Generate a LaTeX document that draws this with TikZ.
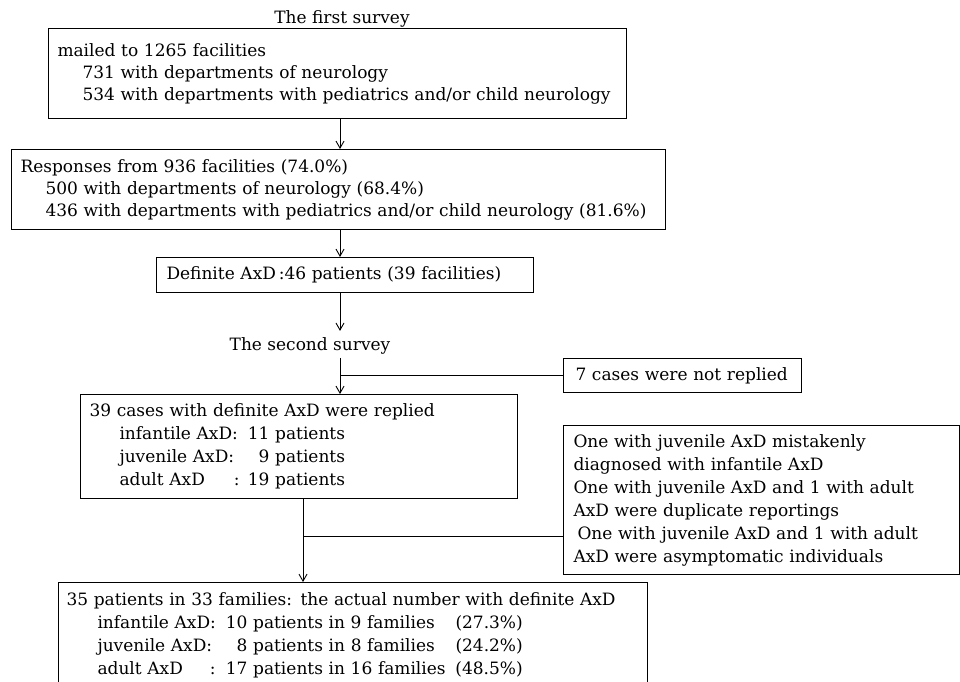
\documentclass[tikz,border=0pt]{standalone}
\usepackage{fontspec}
\setmainfont{DejaVu Serif}
\usetikzlibrary{arrows.meta}
\begin{document}
\begin{tikzpicture}[x=1pt,y=-1pt,
  box/.style={draw, line width=1pt, anchor=north west, inner ysep=0pt, align=left, font=\fontsize{17}{23}\selectfont},
  arr/.style={line width=0.9pt, -{Straight Barb[length=7pt,width=8pt,line width=0.9pt]}},
  conn/.style={line width=0.9pt},
  lbl/.style={font=\fontsize{17}{23}\selectfont, inner sep=0pt}]
\useasboundingbox (0,0) rectangle (960,681);
\clip (0,0) rectangle (960,681);
\coordinate (ax) at (340,0);
\coordinate (ax2) at (303,0);

\node[lbl, anchor=base] (t1) at (342,23) {The first survey};

\node[box, minimum width=578pt, minimum height=90pt, inner xsep=9pt, text width=560pt,
      font=\fontsize{17}{22}\selectfont] (b1) at (48,28)
 {mailed to 1265 facilities\\
  \hspace*{25pt}731 with departments of neurology\\
  \hspace*{25pt}534 with departments with pediatrics and/or child neurology};

\node[box, minimum width=654pt, minimum height=80pt, inner xsep=9pt, text width=636pt,
      font=\fontsize{17}{22}\selectfont] (b2) at (11,149)
 {Responses from 936 facilities (74.0\%)\\
  \hspace*{25pt}500 with departments of neurology (68.4\%)\\
  \hspace*{25pt}436 with departments with pediatrics and/or child neurology (81.6\%)};

\node[box, minimum width=377pt, minimum height=35pt, inner xsep=10pt, text width=357pt] (b3) at (156,257)
 {Definite AxD\,:46 patients (39 facilities)};

\node[lbl, anchor=base] (t2) at (310,350) {The second survey};

\node[box, minimum width=238pt, minimum height=34pt, inner xsep=12pt, text width=214pt] (b7) at (563,358)
 {7 cases were not replied};

\node[box, minimum width=437pt, minimum height=104pt, inner xsep=9pt, text width=419pt] (b4) at (80,394)
 {39 cases with definite AxD were replied\\
  \hspace*{30pt}\makebox[124pt][l]{infantile AxD:}\makebox[26pt][r]{11}\ patients\\
  \hspace*{30pt}\makebox[124pt][l]{juvenile AxD:}\makebox[26pt][r]{9}\ patients\\
  \hspace*{30pt}\makebox[124pt][l]{\makebox[120pt][l]{adult AxD\hfill:}}\makebox[26pt][r]{19}\ patients};

\node[box, minimum width=396pt, minimum height=149pt, inner xsep=10pt, text width=376pt] (b5) at (563,425)
 {One with juvenile AxD mistakenly\\
  diagnosed with infantile AxD\\
  One with juvenile AxD and 1 with adult\\
  AxD were duplicate reportings\\
  \hspace*{4pt}One with juvenile AxD and 1 with adult\\
  AxD were asymptomatic individuals};

\node[box, minimum width=589pt, minimum height=105pt, inner xsep=8pt, text width=573pt] (b6) at (58,582)
 {35 patients in 33 families: the actual number with definite AxD\\
  \hspace*{31pt}\makebox[124pt][l]{infantile AxD:}\makebox[26pt][r]{10}\makebox[208pt][l]{\ patients in 9 families}(27.3\%)\\
  \hspace*{31pt}\makebox[124pt][l]{juvenile AxD:}\makebox[26pt][r]{8}\makebox[208pt][l]{\ patients in 8 families}(24.2\%)\\
  \hspace*{31pt}\makebox[124pt][l]{\makebox[118pt][l]{adult AxD\hfill:}}\makebox[26pt][r]{17}\makebox[208pt][l]{\ patients in 16 families}(48.5\%)};

\draw[arr] (b1.south -| ax) -- (b2.north -| ax);
\draw[arr] (b2.south -| ax) -- (b3.north -| ax);
\draw[arr] (b3.south -| ax) -- ([yshift=6pt]t2.north -| ax);
\draw[arr] ([yshift=-4pt]t2.south -| ax) -- (b4.north -| ax);
\draw[conn] (b7.west) -- (b7.west -| ax);
\draw[arr] (b4.south -| ax2) -- (b6.north -| ax2);
\draw[conn] ([yshift=-36.5pt]b5.west) -- ([yshift=-36.5pt]b5.west -| ax2);
\end{tikzpicture}
\end{document}
